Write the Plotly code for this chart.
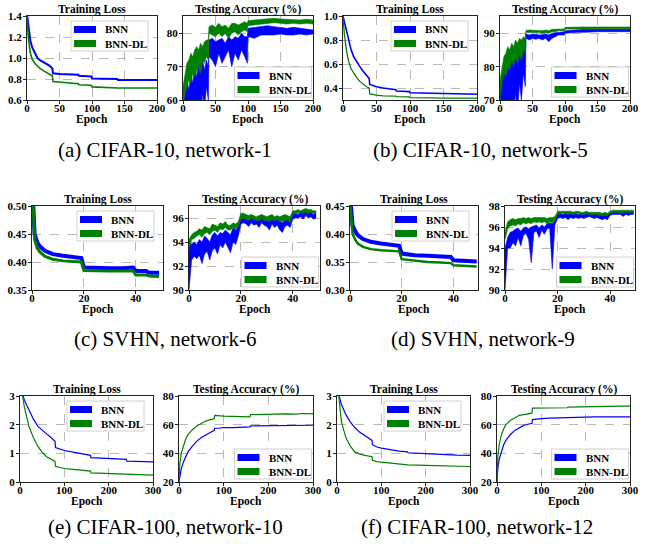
import plotly.graph_objects as go

W, H = 645, 544
BLUE = "#0000ff"
GREEN = "#008000"
FONT = "Liberation Serif"

# ---------------- data ----------------
# (a) CIFAR-10, network-1
a_loss_epoch = [0, 2, 5, 8, 12, 16, 20, 25, 30, 35, 39, 40, 50, 60, 79, 80, 99, 100, 139, 140, 200]
a_loss_bnn = [1.42, 1.30, 1.17, 1.10, 1.05, 1.00, 0.98, 0.96, 0.945, 0.925, 0.90, 0.855, 0.848, 0.845, 0.84, 0.83, 0.825, 0.805, 0.80, 0.79, 0.79]
a_loss_dl = [1.42, 1.20, 1.05, 0.99, 0.95, 0.92, 0.90, 0.88, 0.86, 0.845, 0.83, 0.775, 0.77, 0.765, 0.755, 0.745, 0.74, 0.725, 0.72, 0.715, 0.715]

acc_epoch_200 = [0, 3, 6, 9, 12, 15, 18, 21, 24, 27, 30, 33, 36, 39,
                 40, 45, 50, 55, 60, 65, 70, 75, 80, 85, 90, 95, 99,
                 100, 110, 120, 130, 140, 150, 160, 170, 180, 190, 200]
a_acc_bnn_lo = [50, 52, 55, 50, 56, 53, 58, 55, 60, 54, 62, 57, 64, 60,
                73, 72, 70, 74, 71, 73, 75, 70, 74, 72, 75, 73, 71,
                79, 78.5, 79.5, 79.5, 79.5, 79.8, 79.5, 79.5, 79.8, 79.5, 79.8]
a_acc_bnn_hi = [58, 62, 66, 63, 68, 65, 70, 67, 71, 68, 72, 69, 72, 70,
                78, 78.5, 77.5, 78, 78.5, 77, 79, 78, 79, 78.5, 80, 79, 79,
                81.5, 81.8, 82, 82.3, 82, 81.8, 81.5, 81.8, 81.5, 81.3, 81]
a_acc_dl_lo = [58, 62, 64, 66, 65, 68, 67, 69, 70, 68, 72, 71, 73, 72,
               80, 79.5, 79, 80, 79, 80, 78.5, 80, 80.5, 79.5, 80.5, 81, 80.5,
               82.3, 82.5, 82.8, 83, 83.2, 83, 82.8, 83, 82.8, 83, 82.8]
a_acc_dl_hi = [64, 68, 71, 72, 74, 73, 75, 76, 75, 77, 76, 77.5, 78, 78,
               82, 82.5, 81.8, 83, 82, 82.5, 81.5, 83, 83, 82.5, 83, 83.5, 83,
               83.8, 84, 84.2, 84.5, 84.5, 84.3, 84.2, 84.3, 84, 84.2, 84]

# (b) CIFAR-10, network-5
b_loss_epoch = [0, 2, 5, 8, 12, 16, 20, 25, 30, 35, 39, 40, 50, 60, 79, 80, 99, 100, 139, 140, 200]
b_loss_bnn = [1.0, 0.95, 0.87, 0.80, 0.72, 0.66, 0.62, 0.58, 0.54, 0.51, 0.48, 0.43, 0.41, 0.40, 0.385, 0.375, 0.37, 0.36, 0.355, 0.35, 0.348]
b_loss_dl = [1.0, 0.85, 0.72, 0.63, 0.56, 0.52, 0.49, 0.455, 0.43, 0.41, 0.40, 0.35, 0.34, 0.335, 0.332, 0.328, 0.326, 0.32, 0.318, 0.316, 0.315]

b_acc_bnn_lo = [60, 62, 65, 60, 68, 63, 70, 65, 72, 66, 75, 70, 78, 74,
                88.5, 88, 88.5, 88.2, 88.5, 88, 88.5, 87.5, 88.5, 89, 89.5, 89.5, 89.5,
                90, 90.2, 90.3, 90.3, 90.5, 90.5, 90.5, 90.5, 90.4, 90.5, 90.5]
b_acc_bnn_hi = [72, 76, 80, 78, 82, 80, 84, 82, 86, 84, 87, 85, 88, 87,
                89.8, 89.5, 89.8, 89.7, 89.5, 89.6, 89.8, 89.5, 90, 90.2, 90.3, 90.5, 90.5,
                90.8, 91, 91.2, 91.2, 91.2, 91.3, 91.2, 91.2, 91.3, 91.2, 91.2]
b_acc_dl_lo = [70, 75, 78, 77, 80, 79, 82, 80, 83, 81, 84, 82, 85, 84,
               90.3, 90.2, 90.3, 90.2, 90.3, 90, 90.2, 90, 90.5, 90.5, 90.8, 90.8, 90.8,
               91.3, 91.3, 91.3, 91.4, 91.4, 91.4, 91.4, 91.4, 91.4, 91.4, 91.4]
b_acc_dl_hi = [76, 80, 83, 84, 86, 85, 87, 86, 88, 87, 88.5, 88, 89, 88.5,
               90.9, 91, 90.9, 91, 90.9, 90.8, 91, 90.8, 91.2, 91.2, 91.3, 91.3, 91.3,
               91.8, 91.9, 91.8, 91.9, 91.9, 91.9, 91.9, 91.9, 91.9, 91.9, 91.9]

# (c) SVHN, network-6
c_loss_epoch = [0, 1, 2, 3, 5, 8, 12, 16, 19, 20, 25, 30, 35, 39, 40, 44, 45, 49]
c_loss_bnn = [0.55, 0.45, 0.435, 0.428, 0.42, 0.414, 0.411, 0.409, 0.407, 0.39, 0.389, 0.389, 0.389, 0.39, 0.384, 0.384, 0.381, 0.381]
c_loss_dl = [0.55, 0.44, 0.425, 0.418, 0.41, 0.405, 0.402, 0.401, 0.400, 0.385, 0.384, 0.384, 0.384, 0.384, 0.377, 0.377, 0.375, 0.374]

acc_epoch_50 = list(range(50))
c_acc_bnn_lo = [90.0, 92.5, 92.8, 92.6, 92.9, 92.2, 93.0, 93.2, 92.5, 93.3,
                93.5, 93.0, 93.8, 93.5, 94.0, 93.6, 93.1, 94.0, 93.8, 94.5,
                95.5, 95.6, 95.5, 95.3, 95.6, 95.4, 95.5, 95.2, 95.6, 95.4,
                95.3, 95.0, 95.5, 95.2, 95.4, 95.0, 94.8, 95.3, 95.4, 95.2,
                95.9, 96.0, 96.0, 96.1, 95.9, 96.2, 96.0, 96.1, 95.9, 96.0]
c_acc_bnn_hi = [94.2, 93.8, 94.0, 93.8, 94.2, 94.0, 94.5, 94.3, 94.0, 94.6,
                94.8, 94.5, 94.8, 94.7, 95.0, 94.8, 94.6, 95.2, 95.0, 95.3,
                96.0, 96.0, 95.9, 95.8, 96.0, 95.9, 95.8, 95.8, 96.0, 95.9,
                95.8, 95.7, 95.9, 95.8, 95.9, 95.7, 95.6, 95.8, 95.9, 95.8,
                96.3, 96.4, 96.3, 96.5, 96.4, 96.6, 96.4, 96.5, 96.3, 96.5]
c_acc_dl_lo = [93.3, 94.2, 94.3, 94.5, 94.6, 94.4, 94.7, 94.8, 94.6, 94.9,
               95.0, 94.8, 95.1, 95.0, 95.2, 95.0, 95.0, 95.2, 95.1, 95.3,
               95.9, 96.0, 95.9, 95.8, 96.0, 95.9, 95.8, 95.8, 96.0, 95.8,
               95.8, 95.7, 95.9, 95.8, 95.9, 95.7, 95.7, 95.8, 95.9, 95.6,
               96.3, 96.4, 96.4, 96.5, 96.4, 96.5, 96.4, 96.5, 96.4, 96.4]
c_acc_dl_hi = [94.2, 94.6, 94.8, 94.9, 95.1, 95.0, 95.3, 95.2, 95.1, 95.5,
               95.4, 95.3, 95.6, 95.5, 95.7, 95.4, 95.4, 95.6, 95.5, 95.7,
               96.4, 96.4, 96.3, 96.2, 96.3, 96.2, 96.1, 96.2, 96.3, 96.2,
               96.1, 96.2, 96.3, 96.1, 96.2, 96.1, 96.2, 96.3, 96.2, 96.1,
               96.6, 96.6, 96.7, 96.6, 96.7, 96.8, 96.7, 96.7, 96.6, 96.6]

# (d) SVHN, network-9
d_loss_epoch = [0, 1, 2, 3, 5, 8, 12, 16, 19, 20, 25, 30, 35, 39, 40, 45, 49]
d_loss_bnn = [0.47, 0.415, 0.405, 0.398, 0.391, 0.386, 0.383, 0.381, 0.379, 0.365, 0.362, 0.361, 0.36, 0.359, 0.353, 0.352, 0.351]
d_loss_dl = [0.46, 0.40, 0.39, 0.383, 0.377, 0.373, 0.371, 0.37, 0.369, 0.355, 0.352, 0.35, 0.349, 0.348, 0.344, 0.343, 0.342]

d_acc_bnn_lo = [90.0, 94.0, 94.0, 94.5, 94.2, 95.0, 94.2, 95.2, 95.4, 94.8,
                92.6, 95.5, 95.6, 95.0, 95.7, 95.3, 95.8, 95.9, 92.0, 96.2,
                96.8, 96.9, 96.8, 96.9, 96.7, 96.9, 96.8, 96.9, 96.8, 96.9,
                96.8, 96.9, 97.0, 96.9, 96.8, 96.9, 96.8, 96.7, 96.8, 96.7,
                97.1, 97.2, 97.2, 97.2, 97.2, 97.0, 97.2, 97.1, 97.2, 97.2]
d_acc_bnn_hi = [94.0, 95.0, 95.5, 95.6, 95.8, 95.9, 95.6, 95.9, 96.0, 95.8,
                96.0, 96.1, 96.2, 95.9, 96.2, 96.0, 96.3, 96.4, 96.3, 96.6,
                97.3, 97.3, 97.2, 97.3, 97.2, 97.3, 97.2, 97.3, 97.2, 97.3,
                97.2, 97.3, 97.3, 97.2, 97.2, 97.3, 97.2, 97.1, 97.2, 97.1,
                97.4, 97.5, 97.4, 97.5, 97.4, 97.4, 97.5, 97.4, 97.5, 97.4]
d_acc_dl_lo = [94.8, 95.8, 96.1, 96.2, 96.1, 96.3, 96.2, 96.4, 96.3, 96.4,
               96.3, 96.5, 96.4, 96.5, 96.4, 96.5, 96.3, 96.5, 96.4, 96.7,
               97.2, 97.3, 97.3, 97.3, 97.2, 97.3, 97.2, 97.3, 97.3, 97.2,
               97.2, 97.3, 97.2, 97.2, 97.2, 97.2, 97.1, 97.1, 97.1, 97.1,
               97.3, 97.4, 97.4, 97.4, 97.3, 97.4, 97.4, 97.4, 97.4, 97.4]
d_acc_dl_hi = [95.5, 96.5, 96.7, 96.8, 96.7, 96.8, 96.8, 96.9, 96.8, 96.9,
               96.8, 96.9, 96.9, 96.9, 96.9, 96.9, 96.8, 96.9, 96.9, 97.0,
               97.5, 97.5, 97.5, 97.5, 97.5, 97.5, 97.4, 97.5, 97.5, 97.4,
               97.4, 97.5, 97.4, 97.4, 97.4, 97.4, 97.4, 97.3, 97.4, 97.3,
               97.5, 97.6, 97.6, 97.6, 97.6, 97.6, 97.6, 97.6, 97.6, 97.6]

# (e) CIFAR-100, network-10
loss_epoch_300 = [0, 5, 10, 20, 30, 40, 50, 60, 70, 79, 80, 90, 100, 120, 140, 159, 160, 200, 240, 241, 270, 300]
e_loss_bnn = [3.5, 3.1, 2.85, 2.5, 2.2, 1.95, 1.8, 1.68, 1.55, 1.42, 1.2, 1.14, 1.1, 1.04, 0.98, 0.93, 0.85, 0.82, 0.79, 0.73, 0.72, 0.70]
e_loss_dl = [3.6, 3.0, 2.6, 1.95, 1.55, 1.25, 1.03, 0.88, 0.78, 0.72, 0.55, 0.50, 0.47, 0.44, 0.41, 0.38, 0.32, 0.29, 0.27, 0.26, 0.25, 0.24]

acc_epoch_300 = [0, 2, 5, 10, 15, 20, 30, 40, 50, 60, 70, 79, 80, 90, 100, 120, 140, 159, 160, 180, 200, 220, 240, 260, 280, 300]
e_acc_bnn = [20, 25, 29, 34, 38, 41, 45, 48.5, 51, 53, 54.5, 56, 57.5, 57.5, 58, 58, 58.3, 58.5, 59.2, 59.3, 59.5, 59.5, 59.8, 59.6, 59.8, 59.6]
e_acc_dl = [20, 33, 40, 46, 50, 53, 56.5, 59, 61, 62.5, 63.5, 64.2, 66.5, 66, 66, 65.8, 65.8, 65.5, 67, 67.2, 67.2, 67.3, 67.5, 67.4, 67.8, 67.5]

# (f) CIFAR-100, network-12
f_loss_bnn = [3.5, 3.0, 2.7, 2.35, 2.1, 1.9, 1.75, 1.65, 1.55, 1.45, 1.3, 1.22, 1.18, 1.12, 1.08, 1.05, 1.02, 0.99, 0.96, 0.94, 0.94, 0.93]
f_loss_dl = [3.6, 2.7, 2.1, 1.55, 1.25, 1.05, 0.98, 0.94, 0.91, 0.88, 0.76, 0.71, 0.69, 0.66, 0.64, 0.62, 0.60, 0.58, 0.57, 0.56, 0.55, 0.54]
f_acc_bnn = [20, 30, 36, 42, 46, 49, 53, 56, 58, 59.5, 60.3, 61, 63.5, 64, 64.2, 64.5, 64.8, 65, 65.2, 65.3, 65.3, 65.5, 65.4, 65.5, 65.6, 65.5]
f_acc_dl = [20, 38, 46, 53, 57, 60, 63, 65, 66.5, 67, 67.5, 68, 71.5, 71.5, 71.5, 71.5, 71.8, 71.8, 72.3, 72.5, 72.5, 72.7, 72.8, 73, 73, 73]

series_names = ["BNN", "BNN-DL"]
titles = ["Training Loss", "Testing Accuracy (%)"]
captions = ["(a) CIFAR-10, network-1", "(b) CIFAR-10, network-5",
            "(c) SVHN, network-6", "(d) SVHN, network-9",
            "(e) CIFAR-100, network-10", "(f) CIFAR-100, network-12"]

# ---------------- subplot specs ----------------
# box = pixel box (x0, x1, y0, y1) of plot area
subplots = [
    dict(box=(27, 157, 16, 100), kind="loss", x=a_loss_epoch, b=a_loss_bnn, d=a_loss_dl, lw=(2, 1.6),
         xr=[0, 200], yr=[0.6, 1.4], xt=[0, 50, 100, 150, 200], yt=[0.6, 0.8, 1.0, 1.2, 1.4], fmt=".1f"),
    dict(box=(183, 313, 16, 100), kind="band", x=acc_epoch_200, b=(a_acc_bnn_lo, a_acc_bnn_hi), d=(a_acc_dl_lo, a_acc_dl_hi),
         xr=[0, 200], yr=[60, 85.2], xt=[0, 50, 100, 150, 200], yt=[60, 70, 80], fmt="d"),
    dict(box=(343, 477, 16, 100), kind="loss", x=b_loss_epoch, b=b_loss_bnn, d=b_loss_dl, lw=(1.6, 1.3),
         xr=[0, 200], yr=[0.3, 1.0], xt=[0, 50, 100, 150, 200], yt=[0.4, 0.6, 0.8, 1.0], fmt=".1f"),
    dict(box=(500, 630, 16, 100), kind="band", x=acc_epoch_200, b=(b_acc_bnn_lo, b_acc_bnn_hi), d=(b_acc_dl_lo, b_acc_dl_hi),
         xr=[0, 200], yr=[70, 95.2], xt=[0, 50, 100, 150, 200], yt=[70, 80, 90], fmt="d"),
    dict(box=(32, 163, 206, 290), kind="loss", x=c_loss_epoch, b=c_loss_bnn, d=c_loss_dl, lw=(4, 3),
         xr=[0, 50.5], yr=[0.35, 0.50], xt=[0, 20, 40], yt=[0.35, 0.40, 0.45, 0.50], fmt=".2f"),
    dict(box=(189, 320, 206, 290), kind="band", x=acc_epoch_50, b=(c_acc_bnn_lo, c_acc_bnn_hi), d=(c_acc_dl_lo, c_acc_dl_hi),
         xr=[0, 50.5], yr=[90, 97], xt=[0, 20, 40], yt=[90, 92, 94, 96], fmt="d"),
    dict(box=(350, 478, 206, 290), kind="loss", x=d_loss_epoch, b=d_loss_bnn, d=d_loss_dl, lw=(4, 2.5),
         xr=[0, 49.5], yr=[0.30, 0.45], xt=[0, 20, 40], yt=[0.30, 0.35, 0.40, 0.45], fmt=".2f"),
    dict(box=(505, 635, 206, 290), kind="band", x=acc_epoch_50, b=(d_acc_bnn_lo, d_acc_bnn_hi), d=(d_acc_dl_lo, d_acc_dl_hi),
         xr=[0, 49.5], yr=[90, 98], xt=[0, 20, 40], yt=[90, 92, 94, 96, 98], fmt="d"),
    dict(box=(20, 153, 396, 482), kind="loss", x=loss_epoch_300, b=e_loss_bnn, d=e_loss_dl, lw=(1.2, 1.2),
         xr=[0, 300], yr=[0, 3], xt=[0, 100, 200, 300], yt=[0, 1, 2, 3], fmt="d"),
    dict(box=(179, 313, 396, 482), kind="loss", x=acc_epoch_300, b=e_acc_bnn, d=e_acc_dl, lw=(1.2, 1.2),
         xr=[0, 300], yr=[20, 80], xt=[0, 100, 200, 300], yt=[20, 40, 60, 80], fmt="d"),
    dict(box=(337, 470, 396, 482), kind="loss", x=loss_epoch_300, b=f_loss_bnn, d=f_loss_dl, lw=(1.2, 1.2),
         xr=[0, 300], yr=[0, 3], xt=[0, 100, 200, 300], yt=[0, 1, 2, 3], fmt="d"),
    dict(box=(497, 630, 396, 482), kind="loss", x=acc_epoch_300, b=f_acc_bnn, d=f_acc_dl, lw=(1.2, 1.2),
         xr=[0, 300], yr=[20, 80], xt=[0, 100, 200, 300], yt=[20, 40, 60, 80], fmt="d"),
]
caption_pos = [(165, 150), (481, 150), (165, 339), (483, 339), (165, 527), (477, 527)]


def px(xp):
    return xp / W


def py(yp):
    return 1 - yp / H


fig = go.Figure()
layout = {}
annotations = []
shapes = []
colors = [BLUE, GREEN]

for i, sp in enumerate(subplots):
    n = i + 1
    xa = "x" if n == 1 else f"x{n}"
    ya = "y" if n == 1 else f"y{n}"
    x0, x1, y0, y1 = sp["box"]
    if sp["kind"] == "loss":
        for k, (vals, c) in enumerate(zip([sp["b"], sp["d"]], colors)):
            fig.add_trace(go.Scatter(x=sp["x"], y=vals, mode="lines", xaxis=xa, yaxis=ya,
                                     line=dict(color=c, width=sp["lw"][k]), showlegend=False,
                                     name=series_names[k]))
    else:
        for k, (band, c) in enumerate(zip([sp["b"], sp["d"]], colors)):
            lo, hi = band
            fig.add_trace(go.Scatter(x=sp["x"], y=lo, mode="lines", xaxis=xa, yaxis=ya,
                                     line=dict(color=c, width=0.6), showlegend=False,
                                     name=series_names[k]))
            fig.add_trace(go.Scatter(x=sp["x"], y=hi, mode="lines", xaxis=xa, yaxis=ya,
                                     line=dict(color=c, width=0.6), fill="tonexty", fillcolor=c,
                                     showlegend=False, name=series_names[k]))
    axcommon = dict(showline=True, linecolor="#222", linewidth=1, mirror=True,
                    ticks="outside", ticklen=3, tickcolor="#222",
                    showgrid=True, gridcolor="#b8b8b8", griddash="dash", gridwidth=0.8,
                    zeroline=False, automargin=False,
                    tickfont=dict(family=FONT, size=11, color="black", weight="bold"))
    layout["xaxis" if n == 1 else f"xaxis{n}"] = dict(
        domain=[px(x0), px(x1)], anchor=ya, range=sp["xr"], tickvals=sp["xt"],
        ticklabelstandoff=-5, **axcommon)
    ytxt = [format(v, sp["fmt"]) if sp["fmt"] != "d" else str(v) for v in sp["yt"]]
    layout["yaxis" if n == 1 else f"yaxis{n}"] = dict(
        domain=[py(y1), py(y0)], anchor=xa, range=sp["yr"], tickvals=sp["yt"], ticktext=ytxt,
        ticklabelstandoff=-1, **axcommon)

    # title + xlabel
    cx = (x0 + x1) / 2
    annotations.append(dict(text=f"<b>{titles[i % 2]}</b>", x=px(cx), y=py(y0 - 6.5), xref="paper", yref="paper",
                            showarrow=False, xanchor="center", yanchor="middle",
                            font=dict(family=FONT, size=11.5, color="black")))
    annotations.append(dict(text="<b>Epoch</b>", x=px(cx), y=py(y1 + 19.5), xref="paper", yref="paper",
                            showarrow=False, xanchor="center", yanchor="middle",
                            font=dict(family=FONT, size=11.5, color="black")))

    # legend box
    bw, bh = 77, 30
    if i % 2 == 0:
        bx1 = x1 - 9
        by0 = y0 + 5
    else:
        bx1 = x1 - 1.5
        by0 = y1 - 3 - bh
    bx0 = bx1 - bw
    shapes.append(dict(type="rect", xref="paper", yref="paper", x0=px(bx0), x1=px(bx1), y0=py(by0 + bh), y1=py(by0),
                       line=dict(color="#d0d0d0", width=1), fillcolor="rgba(255,255,255,0.85)", layer="above"))
    for k in range(2):
        cy = by0 + 8.5 + 14 * k
        shapes.append(dict(type="rect", xref="paper", yref="paper", x0=px(bx0 + 3), x1=px(bx0 + 25),
                           y0=py(cy + 3.5), y1=py(cy - 3.5), line=dict(width=0), fillcolor=colors[k], layer="above"))
        annotations.append(dict(text=f"<b>{series_names[k]}</b>", x=px(bx0 + 32), y=py(cy), xref="paper", yref="paper",
                                showarrow=False, xanchor="left", yanchor="middle",
                                font=dict(family=FONT, size=11, color="black")))

for cap, (cx, cy) in zip(captions, caption_pos):
    annotations.append(dict(text=cap, x=px(cx), y=py(cy), xref="paper", yref="paper", showarrow=False,
                            xanchor="center", yanchor="middle", font=dict(family=FONT, size=21, color="black")))

fig.update_layout(width=W, height=H, autosize=False, margin=dict(l=0, r=0, t=0, b=0),
                  paper_bgcolor="white", plot_bgcolor="white", showlegend=False,
                  annotations=annotations, shapes=shapes, **layout)
# place the figure at the page's top-left corner (no default body margin)
fig.write_html("out.html", config={"displayModeBar": False},
               post_script="document.body.style.margin='0px';")
